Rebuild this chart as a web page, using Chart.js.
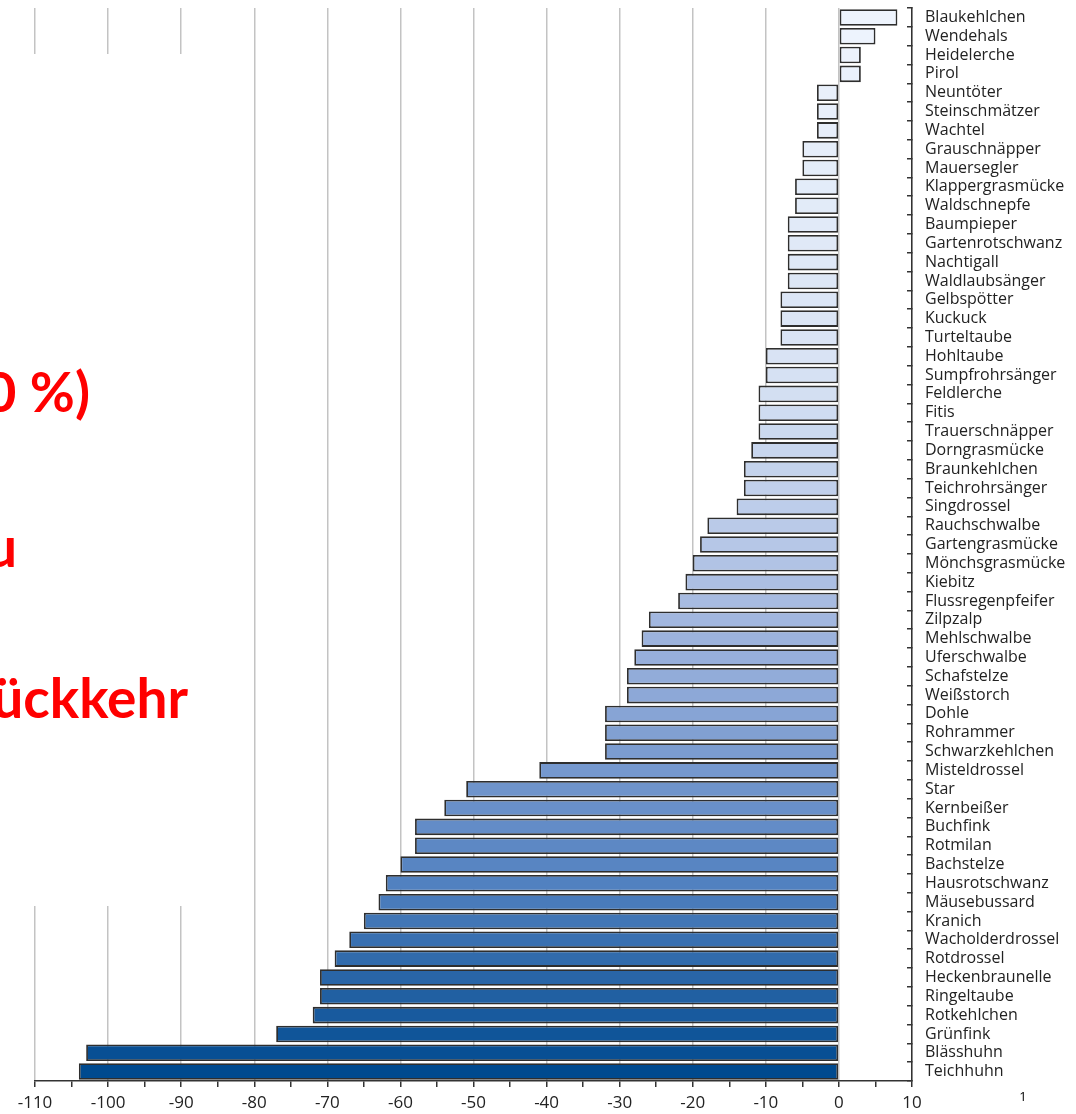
<!DOCTYPE html>
<html>
<head>
<meta charset="utf-8">
<script src="https://cdn.jsdelivr.net/npm/chart.js@4.4.0/dist/chart.umd.min.js"></script>
<style>
  html, body { margin: 0; padding: 0; background: #fff; }
  #wrap { width: 1076px; height: 1114px; position: relative; }
</style>
</head>
<body>
<div id="wrap"><canvas id="chart" width="1076" height="1114"></canvas></div>
<script>
// species, top to bottom
const species = [
    'Blaukehlchen', 'Wendehals', 'Heidelerche', 'Pirol', 'Neuntöter', 'Steinschmätzer', 'Wachtel',
    'Grauschnäpper', 'Mauersegler', 'Klappergrasmücke', 'Waldschnepfe', 'Baumpieper', 'Gartenrotschwanz',
    'Nachtigall', 'Waldlaubsänger', 'Gelbspötter', 'Kuckuck', 'Turteltaube', 'Hohltaube', 'Sumpfrohrsänger',
    'Feldlerche', 'Fitis', 'Trauerschnäpper', 'Dorngrasmücke', 'Braunkehlchen', 'Teichrohrsänger',
    'Singdrossel', 'Rauchschwalbe', 'Gartengrasmücke', 'Mönchsgrasmücke', 'Kiebitz', 'Flussregenpfeifer',
    'Zilpzalp', 'Mehlschwalbe', 'Uferschwalbe', 'Schafstelze', 'Weißstorch', 'Dohle', 'Rohrammer',
    'Schwarzkehlchen', 'Misteldrossel', 'Star', 'Kernbeißer', 'Buchfink', 'Rotmilan', 'Bachstelze',
    'Hausrotschwanz', 'Mäusebussard', 'Kranich', 'Wacholderdrossel', 'Rotdrossel', 'Heckenbraunelle',
    'Ringeltaube', 'Rotkehlchen', 'Grünfink', 'Blässhuhn', 'Teichhuhn'
];

// change in days
const change = [
    8, 5, 3, 3, -3, -3, -3,
    -5, -5, -6, -6, -7, -7,
    -7, -7, -8, -8, -8, -10, -10,
    -11, -11, -11, -12, -13, -13,
    -14, -18, -19, -20, -21, -22,
    -26, -27, -28, -29, -29, -32, -32,
    -32, -41, -51, -54, -58, -58, -60,
    -62, -63, -65, -67, -69, -71,
    -71, -72, -77, -103, -104
];

const xMin = -110;
const xMax = 10;
const overlayText = ['0 %)', 'u', 'ückkehr'];
const pageNumber = '1';

// light-to-dark blue ramp down the list
const stops = [
    [0.00, [238, 244, 253]],
    [0.33, [216, 227, 244]],
    [0.50, [182, 199, 231]],
    [0.65, [139, 166, 214]],
    [0.82, [82, 129, 192]],
    [1.00, [0, 74, 143]]
];
function rampColor(t) {
    for (let i = 1; i < stops.length; i++) {
        if (t <= stops[i][0]) {
            const [t0, c0] = stops[i - 1];
            const [t1, c1] = stops[i];
            const f = (t - t0) / (t1 - t0);
            const c = c0.map((v, k) => Math.round(v + (c1[k] - v) * f));
            return `rgb(${c[0]},${c[1]},${c[2]})`;
        }
    }
    return 'rgb(0,74,143)';
}
const barColors = species.map((_, i) => rampColor(i / (species.length - 1)));

const overlayPlugin = {
    id: 'overlay',
    beforeDatasetsDraw(chart) {
        const ctx = chart.ctx;
        ctx.save();
        ctx.fillStyle = '#fff';
        ctx.fillRect(0, 54, 245, 852);
        ctx.fillStyle = '#ff0000';
        ctx.font = 'bold 55px Lato, "Open Sans", sans-serif';
        ctx.textAlign = 'right';
        ctx.textBaseline = 'alphabetic';
        ctx.fillText(overlayText[0], 90, 412);
        ctx.fillText(overlayText[1], 17, 567);
        ctx.fillText(overlayText[2], 188, 718);
        ctx.restore();
    },
    afterDraw(chart) {
        const ctx = chart.ctx;
        ctx.save();
        ctx.fillStyle = '#000';
        ctx.font = '13px "Open Sans", sans-serif';
        ctx.textAlign = 'center';
        ctx.textBaseline = 'middle';
        ctx.fillText(pageNumber, 1023, 1097);
        ctx.restore();
    }
};

const ctx = document.getElementById('chart').getContext('2d');
new Chart(ctx, {
    type: 'bar',
    data: {
        labels: species,
        datasets: [{
            data: change,
            backgroundColor: barColors,
            borderColor: '#2e2e2e',
            borderWidth: 1.8,
            borderSkipped: false,
            categoryPercentage: 0.88,
            barPercentage: 1.0
        }]
    },
    options: {
        indexAxis: 'y',
        responsive: false,
        animation: false,
        devicePixelRatio: 1,
        layout: { padding: { left: 35, top: 8, right: 0, bottom: 0 } },
        plugins: {
            legend: { display: false },
            tooltip: { enabled: false }
        },
        scales: {
            x: {
                type: 'linear',
                min: xMin,
                max: xMax,
                ticks: {
                    stepSize: 5,
                    color: '#222',
                    font: { family: '"Open Sans", sans-serif', size: 17 },
                    padding: 6,
                    maxRotation: 0,
                    autoSkip: false,
                    callback: v => (v % 10 === 0 ? String(v) : '')
                },
                grid: {
                    color: c => (c.tick && c.tick.value % 10 === 0 ? '#c3c3c3' : 'rgba(0,0,0,0)'),
                    tickColor: '#333',
                    lineWidth: 1.5,
                    tickLength: 6
                },
                border: { display: true, color: '#333', width: 1.5 },
                afterFit: s => { s.height = 33; s.paddingLeft = 0; s.paddingRight = 0; }
            },
            y: {
                position: 'right',
                ticks: {
                    color: '#222',
                    font: { family: '"Open Sans", sans-serif', size: 16 },
                    padding: 18,
                    autoSkip: false,
                    crossAlign: 'near'
                },
                grid: {
                    drawOnChartArea: false,
                    tickColor: '#333',
                    tickLength: -5,
                    lineWidth: 1.5,
                    offset: true
                },
                border: { display: true, color: '#333', width: 1.5 },
                afterFit: s => { s.width = 164; s.paddingTop = 0; s.paddingBottom = 0; }
            }
        }
    },
    plugins: [overlayPlugin]
});
</script>
</body>
</html>
